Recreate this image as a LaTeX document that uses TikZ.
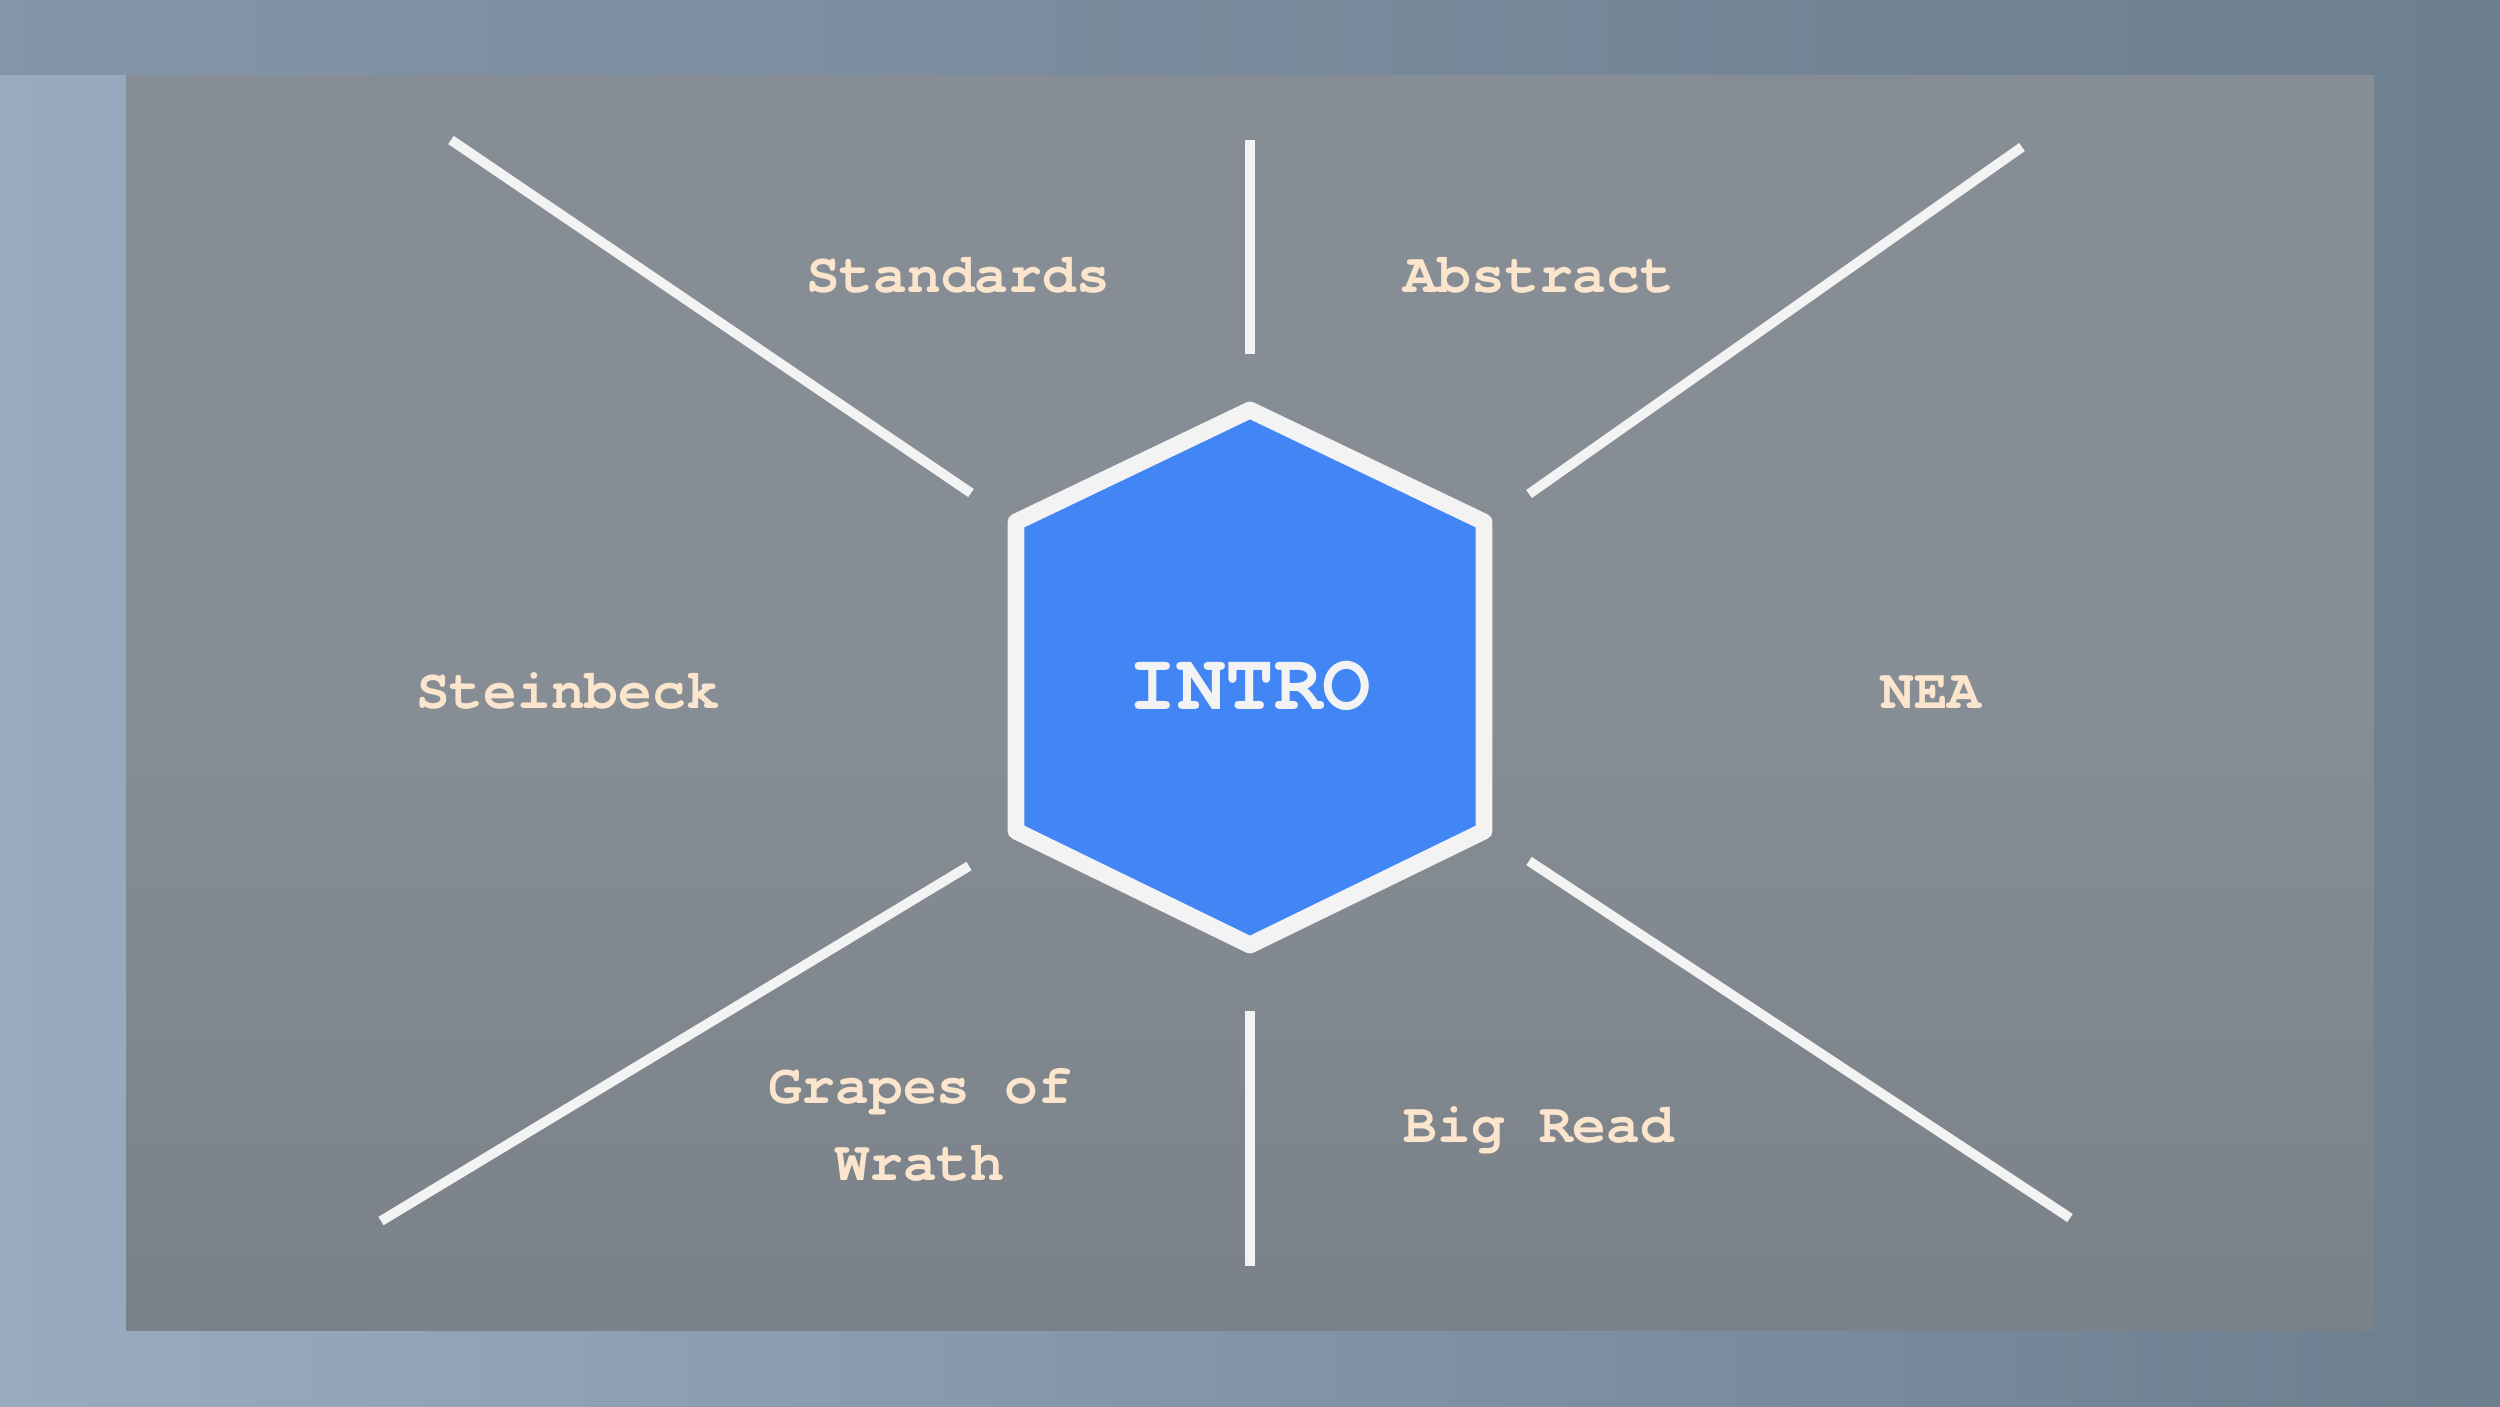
\documentclass[tikz,border=0pt]{standalone}
\usepackage{fontspec}
\setmonofont{TeX Gyre Cursor}
\definecolor{bgleft}{HTML}{98ABC0}
\definecolor{bgright}{HTML}{6C7F8F}
\definecolor{bgtop}{HTML}{6F8190}
\definecolor{panelgray}{HTML}{878D95}
\definecolor{panelgraydark}{HTML}{7A8189}
\definecolor{hexblue}{HTML}{4285F4}
\definecolor{hexedge}{HTML}{F3F3F3}
\definecolor{peach}{HTML}{FCE5CD}

\tikzset{
  spoke/.style={draw=hexedge, line width=2.8pt},
  topic/.style={anchor=base, text=peach, font=\ttfamily\bfseries\fontsize{16}{21.8}\selectfont, align=center, inner sep=0pt},
  hexlabel/.style={anchor=base, text=hexedge, font=\ttfamily\bfseries\fontsize{23}{28}\selectfont, inner sep=0pt}
}

\begin{document}
\begin{tikzpicture}[x=0.01cm,y=-0.01cm]
% background
\useasboundingbox (0,0) rectangle (2500,1406);
\shade[left color=bgleft, right color=bgright] (0,0) rectangle (2500,1406);
\fill[bgtop, opacity=0.5] (0,0) rectangle (2500,75);
\shade[top color=panelgray, bottom color=panelgraydark, middle color=panelgray] (126,75) rectangle (2374,1330);

% spokes
\coordinate (s1a) at (451,140);   \coordinate (s1b) at (971,493);
\coordinate (s2a) at (1250,140);  \coordinate (s2b) at (1250,354);
\coordinate (s3a) at (2022,147);  \coordinate (s3b) at (1529,494);
\coordinate (s4a) at (969,866);   \coordinate (s4b) at (381,1221);
\coordinate (s5a) at (1250,1011); \coordinate (s5b) at (1250,1266);
\coordinate (s6a) at (1529,861);  \coordinate (s6b) at (2070,1218);
\foreach \s in {1,...,6} {
    \draw[spoke] (s\s a) -- (s\s b);
}

% hexagon
\coordinate (hex) at (1250,677);
\draw[fill=hexblue, draw=hexedge, line width=4.8pt, line join=round]
    (1250,410) -- (1484,522) -- (1484,831) -- (1250,945) -- (1016,831) -- (1016,522) -- cycle;
\node[hexlabel] (intro) at (1250,709) {INTRO};

% topics
\node[topic] (standards) at (958,292) {Standards};
\node[topic] (abstract) at (1539,292) {Abstract};
\node[topic] (steinbeck) at (568,708) {Steinbeck};
\node[topic] (nea) at (1931,708) {NEA};
\node[topic] (grapes) at (920,1180) {Grapes of\\Wrath};
\node[topic] (bigread) at (1539,1142) {Big Read};
\end{tikzpicture}
\end{document}
